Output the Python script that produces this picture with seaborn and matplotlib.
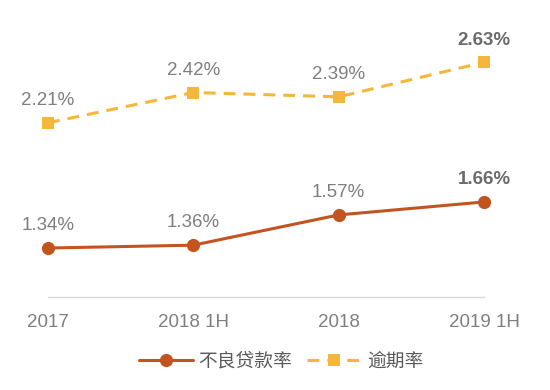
import matplotlib
matplotlib.use("Agg")
import matplotlib.pyplot as plt
import seaborn as sns
import pandas as pd

periods = ["2017", "2018 1H", "2018", "2019 1H"]
npl_rate = [1.34, 1.36, 1.57, 1.66]      # 不良贷款率
overdue_rate = [2.21, 2.42, 2.39, 2.63]  # 逾期率

sns.set_theme(style="white")
plt.rcParams["font.family"] = ["Liberation Sans", "Noto Sans CJK SC", "DejaVu Sans"]

ORANGE = "#C4541F"
YELLOW = "#F5B73B"
GRAY = "#7F7F7F"
DARK = "#6B6B6B"

df = pd.DataFrame({"x": range(len(periods)), "npl": npl_rate, "overdue": overdue_rate})

fig = plt.figure(figsize=(5.5, 3.9), dpi=100)
ax = fig.add_axes([48 / 550, 1 - 297 / 390, (484 - 48) / 550, (297 - 9) / 390])

sns.lineplot(data=df, x="x", y="npl", ax=ax, color=ORANGE, linewidth=2.2,
             marker="o", markersize=9.5, markeredgewidth=0, label="不良贷款率",
             clip_on=False)
sns.lineplot(data=df, x="x", y="overdue", ax=ax, color=YELLOW, linewidth=2.2,
             marker="s", markersize=9, markeredgewidth=0, label="逾期率",
             clip_on=False, dashes=False)
ax.lines[-1].set_dashes((3.9, 2.6))

last = len(periods) - 1
for series in (npl_rate, overdue_rate):
    for i, v in enumerate(series):
        bold = i == last
        ax.annotate(f"{v:.2f}%", (i, v), xytext=(0, 16), textcoords="offset points",
                    ha="center", va="center", fontsize=13.5,
                    color=DARK if bold else GRAY,
                    fontweight="bold" if bold else "normal")

ax.set_xlim(0, last)
ax.set_ylim(1, 3)
ax.set_xticks(range(len(periods)))
ax.set_xticklabels(periods, fontsize=13.5, color=GRAY)
ax.set_yticks([])
ax.set_xlabel("")
ax.set_ylabel("")
ax.tick_params(axis="x", length=0, pad=12)
for side in ["top", "right", "left"]:
    ax.spines[side].set_visible(False)
ax.spines["bottom"].set_color("#D9D9D9")
ax.spines["bottom"].set_linewidth(1)

leg = ax.legend(loc="center", bbox_to_anchor=(281 / 550, 1 - 362 / 390),
                bbox_transform=fig.transFigure, ncol=2, frameon=False,
                fontsize=13.5, handlelength=2.9, handletextpad=0.3, columnspacing=0.8)
for t in leg.get_texts():
    t.set_color("#595959")

fig.savefig("out.png", dpi=100)
